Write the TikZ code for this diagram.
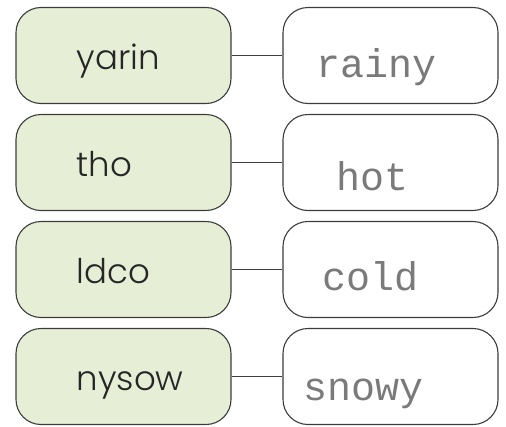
\documentclass[tikz,border=0pt]{standalone}
\usepackage{fontspec}
\newfontfamily\wordfont{Poppins Light}
\newfontfamily\handfont{Liberation Mono}
\definecolor{leaf}{HTML}{E6EFD6}
\definecolor{edge}{HTML}{3C3C3C}
\definecolor{pencil}{HTML}{7A7A7A}
\tikzset{
  card/.style={draw=edge,line width=1.1pt,rounded corners=25pt,
    minimum width=215pt,minimum height=96pt,inner sep=0pt},
  scrambled/.style={card,fill=leaf},
  answer/.style={card,fill=white},
  wordtext/.style={font=\wordfont\fontsize{34}{34}\selectfont,
    text=black!85,inner sep=0pt,anchor=base west},
  handtext/.style={font=\handfont\fontsize{40}{40}\selectfont,
    text=pencil,inner sep=0pt,anchor=base west}
}
\begin{document}
\begin{tikzpicture}[x=1pt,y=-1pt]
  \useasboundingbox (0,0) rectangle (506,426);
  \foreach \w/\a/\dx/\dy [count=\i] in
      {yarin/rainy/34/22,tho/hot/54/28,ldco/cold/40/21,nysow/snowy/21/24}{
    \pgfmathsetmacro{\yy}{55.5+107*(\i-1)}
    \node[scrambled] (w\i) at (123.5,\yy) {};
    \node[answer] (a\i) at (390.5,\yy) {};
    \draw[edge,line width=1.1pt] (w\i.east) -- (a\i.west);
    \node[wordtext] (wt\i) at ([xshift=61pt,yshift=-14pt]w\i.west) {\w};
    \node[handtext] (at\i) at ([xshift=\dx pt,yshift=-\dy pt]a\i.west) {\a};
  }
\end{tikzpicture}
\end{document}
